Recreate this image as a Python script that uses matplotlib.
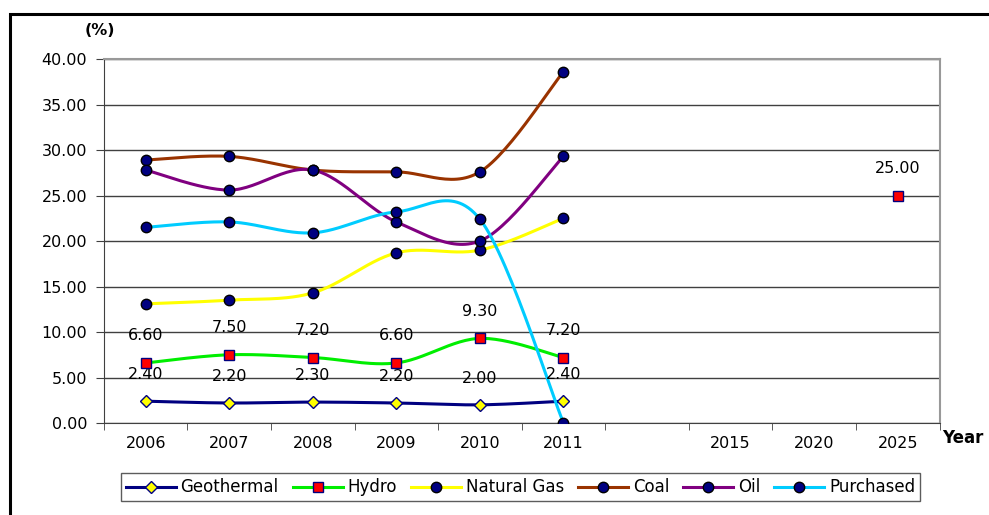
import matplotlib.pyplot as plt
from matplotlib.patches import Rectangle
import numpy as np

plt.rcParams['font.family'] = ['DejaVu Sans']

years = ['2006', '2007', '2008', '2009', '2010', '2011', '', '2015', '2020', '2025']

geothermal = [2.4, 2.2, 2.3, 2.2, 2.0, 2.4]
hydro = [6.6, 7.5, 7.2, 6.6, 9.3, 7.2]
hydro_2025 = 25.0
natural_gas = [13.1, 13.5, 14.3, 18.7, 19.0, 22.5]
coal = [28.9, 29.3, 27.8, 27.6, 27.6, 38.6]
oil = [27.8, 25.6, 27.8, 22.1, 20.0, 29.3]
purchased = [21.5, 22.1, 20.9, 23.2, 22.4, 0.0]


def smooth(x, y, n=30):
    # bezier through the points, control points from neighbours (like excel smoothed lines)
    x = np.asarray(x, float)
    y = np.asarray(y, float)
    xs, ys = [], []
    for i in range(len(x) - 1):
        p0 = np.array([x[max(i - 1, 0)], y[max(i - 1, 0)]])
        p1 = np.array([x[i], y[i]])
        p2 = np.array([x[i + 1], y[i + 1]])
        p3 = np.array([x[min(i + 2, len(x) - 1)], y[min(i + 2, len(x) - 1)]])
        c1 = p1 + (p2 - p0) / 6
        c2 = p2 - (p3 - p1) / 6
        t = np.linspace(0, 1, n)[:, None]
        pts = (1 - t) ** 3 * p1 + 3 * (1 - t) ** 2 * t * c1 + 3 * (1 - t) * t ** 2 * c2 + t ** 3 * p2
        xs.extend(pts[:, 0])
        ys.extend(pts[:, 1])
    return xs, ys


fig = plt.figure(figsize=(9.89, 5.15), dpi=100)
ax = fig.add_axes([0.105, 0.1786, 0.845, 0.7068])

x = np.arange(6)
series = [
    ('Geothermal', geothermal, '#000080', 'D', '#FFFF00', 6),
    ('Hydro', hydro, '#00EE00', 's', '#FF0000', 6.5),
    ('Natural Gas', natural_gas, '#FFFF00', 'o', '#000080', 7.5),
    ('Coal', coal, '#993300', 'o', '#000080', 7.5),
    ('Oil', oil, '#800080', 'o', '#000080', 7.5),
    ('Purchased', purchased, '#00CCFF', 'o', '#000080', 7.5),
]

handles = []
for name, vals, col, mk, fc, ms in series:
    sx, sy = smooth(x, vals)
    ax.plot(sx, sy, color=col, lw=2.2, zorder=3)
    ec = '#000080' if mk != 'o' else 'black'
    ax.plot(x, vals, ls='none', marker=mk, ms=ms, mfc=fc, mec=ec, mew=1, zorder=4)
    h, = ax.plot([], [], color=col, lw=2.2, marker=mk, ms=ms, mfc=fc, mec=ec, mew=1)
    h.set_label(name)
    handles.append(h)

# hydro target for 2025
ax.plot([9], [hydro_2025], ls='none', marker='s', ms=6.5, mfc='#FF0000', mec='#000080', mew=1, zorder=4)

# value labels
for xi, v in zip(x, hydro):
    ax.annotate(f'{v:.2f}', (xi, v), xytext=(0, 19.5), textcoords='offset points',
                ha='center', va='center', fontsize=11.5)
for xi, v in zip(x, geothermal):
    ax.annotate(f'{v:.2f}', (xi, v), xytext=(0, 19), textcoords='offset points',
                ha='center', va='center', fontsize=11.5)
ax.annotate(f'{hydro_2025:.2f}', (9, hydro_2025), xytext=(0, 19.5), textcoords='offset points',
            ha='center', va='center', fontsize=11.5)

ax.set_xlim(-0.5, 9.5)
ax.set_ylim(0, 40)
ax.set_yticks(np.arange(0, 41, 5))
ax.set_yticklabels([f'{v:.2f}' for v in np.arange(0, 41, 5)], fontsize=11.5)
ax.set_xticks(np.arange(10))
ax.set_xticklabels(years, fontsize=11.5)
ax.set_xticks(np.arange(-0.5, 10, 1), minor=True)
ax.tick_params(axis='x', which='major', length=0, pad=9)
ax.tick_params(axis='x', which='minor', length=5, direction='out', color='#404040')
ax.tick_params(axis='y', length=6, direction='out', color='#404040', pad=6)

ax.grid(axis='y', color='#404040', lw=1)
ax.set_axisbelow(True)
for s in ['top', 'right']:
    ax.spines[s].set_color('#999999')
    ax.spines[s].set_linewidth(1.5)
for s in ['left', 'bottom']:
    ax.spines[s].set_color('#404040')

fig.text(0.101, 0.94, '(%)', fontsize=11.5, fontweight='bold', ha='center', va='center')
fig.text(0.974, 0.149, 'Year', fontsize=12, fontweight='bold', ha='center', va='center')

leg = fig.legend(handles=handles, loc='center', bbox_to_anchor=(0.5263, 0.0534), ncol=6,
                 fontsize=12, frameon=True, fancybox=False, edgecolor='#333333',
                 handlelength=3.0, handletextpad=0.3, columnspacing=0.83, borderpad=0.3,
                 borderaxespad=0)
leg.get_frame().set_linewidth(1)

# outer chart frame (top and left edges)
fig.add_artist(Rectangle((0.0105, -0.05), 1.2, 1.023, transform=fig.transFigure,
                         fill=False, edgecolor='black', lw=2.2))

fig.savefig('out.png', dpi=100)
